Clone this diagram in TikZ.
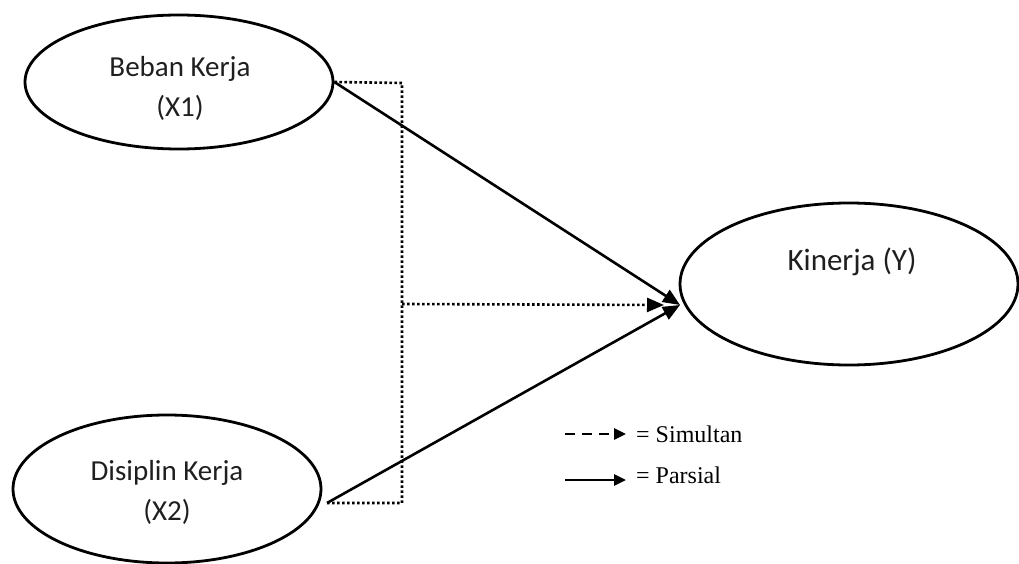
\documentclass[tikz,border=0pt]{standalone}
\usepackage{fontspec}
\setmainfont{Carlito}
\newfontfamily\legendfont{Liberation Serif}
\usetikzlibrary{shapes.geometric,arrows.meta}
\begin{document}
\begin{tikzpicture}[x=1pt,y=-1pt,
  var/.style={draw,ellipse,line width=2.8pt,inner sep=0pt},
  lbl/.style={font=\fontsize{29}{40}\selectfont,align=center,text=black!88,inner sep=0pt},
  dotline/.style={line width=2.6pt,dash pattern=on 2.6pt off 2.4pt},
  tipbig/.style={-{Triangle[length=17pt,width=14pt]}},
  solidarrow/.style={line width=2.6pt,tipbig},
  legtip/.style={-{Triangle[length=12pt,width=11pt]}},
  legtxt/.style={font=\legendfont\fontsize{24}{28}\selectfont,anchor=base west,inner sep=0pt}]
\useasboundingbox (0,0) rectangle (1019,564);
% variables
\node[var,minimum width=308pt,minimum height=134pt] (x1) at (179,82) {};
\node[lbl] (x1t) at (180,88) {Beban Kerja\\(X1)};
\node[var,minimum width=308pt,minimum height=148pt] (x2) at (167,489) {};
\node[lbl] (x2t) at (167,492) {Disiplin Kerja\\(X2)};
\node[var,minimum width=338pt,minimum height=162pt] (y) at (849,284) {};
\node[lbl,font=\fontsize{31}{40}\selectfont] (yt) at (852,262) {Kinerja (Y)};
% connector points
\coordinate (x2out) at (327,503);
\coordinate (j1) at (402,83);
\coordinate (j2) at (402,503);
\coordinate (jm) at (402,304);
\coordinate (tip) at (680,305);
\coordinate (dtip) at (664,305);
% simultaneous (dotted)
\draw[dotline] (x1.east) -- (j1) -- (j2) -- (x2out);
\draw[dotline,tipbig] (jm) -- (dtip);
% partial (solid)
\draw[solidarrow] (x1.east) -- (tip);
\draw[solidarrow] (x2out) -- (tip);
% legend
\coordinate (l1a) at (565,434);
\coordinate (l1b) at (626,434);
\coordinate (l2a) at (565,480);
\coordinate (l2b) at (626,480);
\draw[line width=2.8pt,dash pattern=on 10pt off 7pt,legtip] (l1a) -- (l1b);
\draw[line width=2.8pt,legtip] (l2a) -- (l2b);
\node[legtxt] (s1) at (636,442) {= Simultan};
\node[legtxt] (s2) at (636,483) {= Parsial};
\end{tikzpicture}
\end{document}
